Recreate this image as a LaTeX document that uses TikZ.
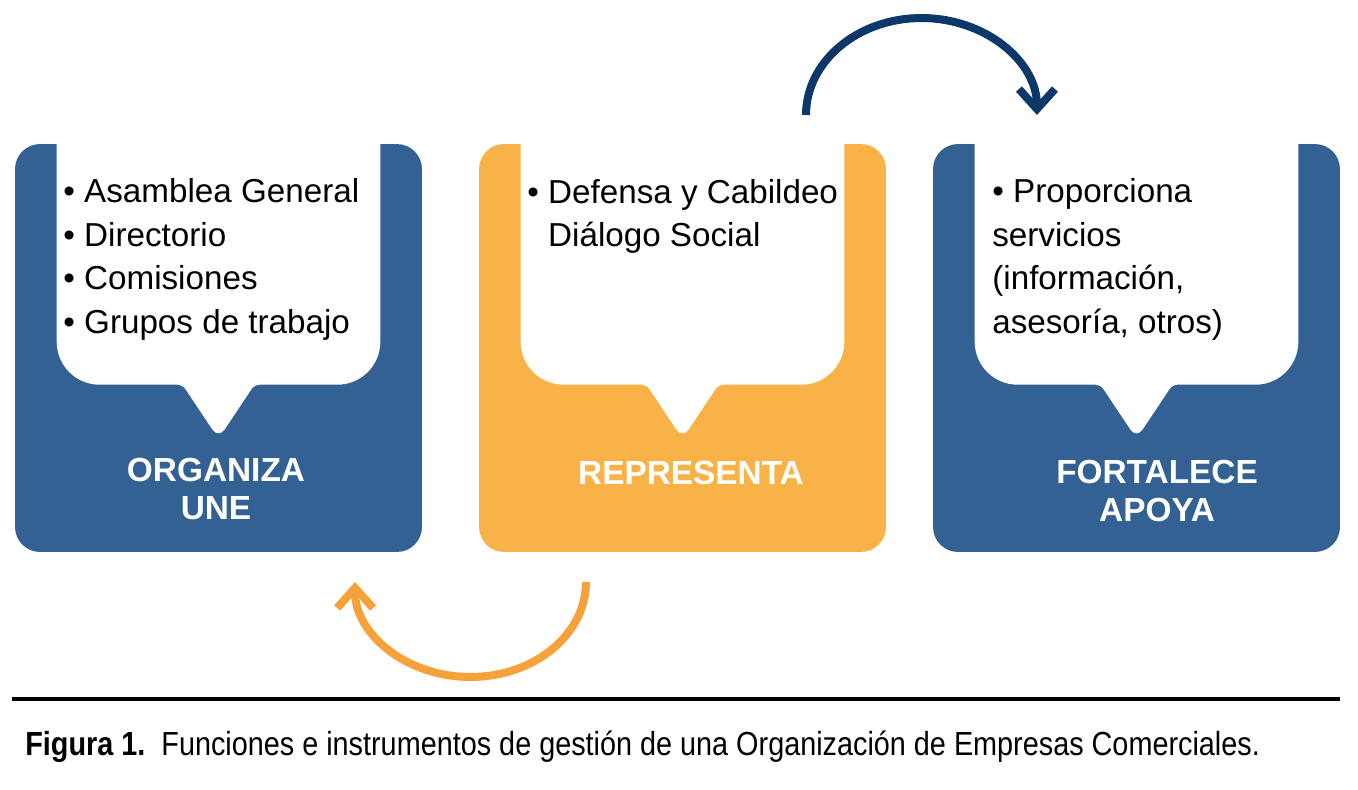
\documentclass[tikz,border=0pt]{standalone}
\usepackage{fontspec}
\setmainfont{Liberation Sans}
\newfontfamily\capfont[FakeStretch=0.863]{Liberation Sans}
\usetikzlibrary{calc,arrows.meta}
\definecolor{boxblue}{RGB}{51,97,147}
\definecolor{boxorange}{RGB}{249,178,72}
\definecolor{arrblue}{RGB}{12,55,105}
\definecolor{arrorange}{RGB}{246,162,58}
\begin{document}
\begin{tikzpicture}[x=0.02cm,y=0.02cm,line cap=butt,
    panel/.style={rounded corners=0.5cm,minimum width=8.14cm,
      minimum height=8.16cm,inner sep=0pt},
    items/.style={anchor=base west,align=left,inner sep=0pt,
      font=\fontsize{18.9}{24.7}\selectfont},
    tag/.style={align=center,text=white,inner sep=0pt,
      font=\bfseries\fontsize{19}{21.6}\selectfont},
    turn/.style={line width=0.16cm,
      -{Straight Barb[length=0.4cm,width=0.72cm]}}]
  \useasboundingbox (0,0) rectangle (1358,-789);
  % the three panels
  \node[panel,fill=boxblue] (org) at (218.5,-348) {};
  \node[panel,fill=boxorange] (rep) at (682.5,-348) {};
  \node[panel,fill=boxblue] (fort) at (1136.5,-348) {};
  % speech bubbles
  \foreach \bx in {org,rep,fort}
    \fill[white] ($(\bx.north west)+(42,0)$)
      [rounded corners=0.86cm] -- ($(\bx.north west)+(42,-241)$)
      [rounded corners=0.1cm] -- ($(\bx.north)+(-36,-241)$)
      [rounded corners=0.22cm] -- ($(\bx.north)+(0,-295)$)
      [rounded corners=0.1cm] -- ($(\bx.north)+(36,-241)$)
      [rounded corners=0.86cm] -- ($(\bx.north east)+(-42,-241)$)
      [sharp corners] -- ($(\bx.north east)+(-42,0)$) -- cycle;
  % bubble texts (placed at the baseline of their last line)
  \node[items] (orgItems) at (63,-333)
    {\textbullet\ Asamblea General\\\textbullet\ Directorio\\
     \textbullet\ Comisiones\\\textbullet\ Grupos de trabajo};
  \node[items] (repItems) at (527,-246.4)
    {\textbullet\ Defensa y Cabildeo\\
     \phantom{\textbullet\ }Diálogo Social};
  \node[items] (fortItems) at (992,-333)
    {\textbullet\ Proporciona\\servicios\\(información,\\asesoría, otros)};
  % panel titles
  \node[tag] (orgTag) at (216,-489) {ORGANIZA\\UNE};
  \node[tag] (repTag) at (691,-473) {REPRESENTA};
  \node[tag] (fortTag) at (1157,-491) {FORTALECE\\APOYA};
  % turning arrows
  \coordinate (repTop) at (806,-115);
  \coordinate (repBottom) at (586,-582);
  \draw[turn,arrblue] (repTop) arc[start angle=180,end angle=0,
    x radius=2.31cm,y radius=1.94cm] coordinate (fortTop);
  \draw[turn,arrorange] (repBottom) arc[start angle=0,end angle=-180,
    x radius=2.31cm,y radius=1.9cm] coordinate (orgBottom);
  % caption
  \draw[line width=0.09cm] (12,-699) -- (1340,-699);
  \node[anchor=base west,inner sep=0pt,
    font=\capfont\fontsize{19}{22}\selectfont] (caption) at (25,-755)
    {\textbf{Figura 1.}\ \ Funciones e instrumentos de gestión de una
     Organización de Empresas Comerciales.};
\end{tikzpicture}
\end{document}
